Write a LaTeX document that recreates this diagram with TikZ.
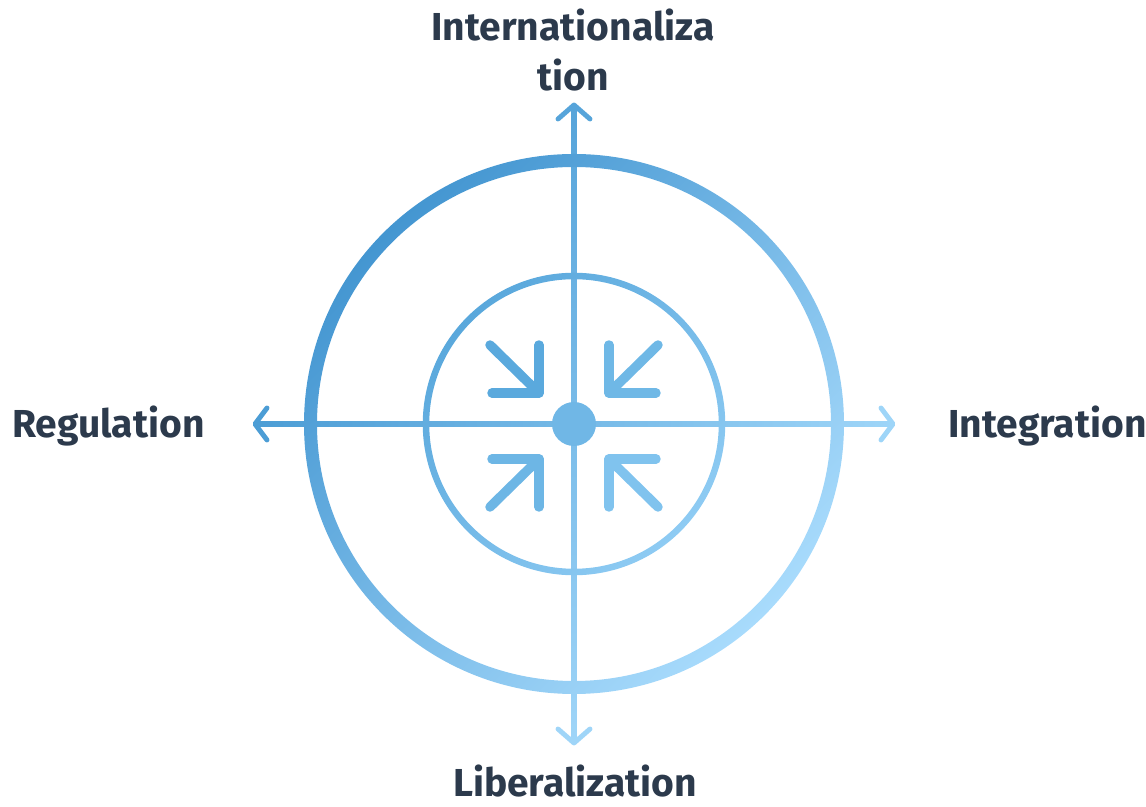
\documentclass[tikz,border=0pt]{standalone}
\usepackage{fontspec}
\setmainfont{Fira Sans}
\usetikzlibrary{positioning}

\definecolor{labeltext}{HTML}{2C3A4C}
\definecolor{ringdark}{HTML}{4496D1}
\definecolor{ringlight}{HTML}{A8DBFC}
\definecolor{innerdark}{HTML}{5AA8DC}
\definecolor{innerlight}{HTML}{8ECBF3}
\definecolor{axwest}{HTML}{4C9DD5}
\definecolor{axeast}{HTML}{9ED5F8}
\definecolor{axnorth}{HTML}{56A4DA}
\definecolor{axsouth}{HTML}{9FD5F8}

\tikzset{
  axislabel/.style={font=\bfseries\fontsize{22.2}{28.4}\selectfont, text=labeltext, align=center, inner sep=0pt},
  chevron/.style={line width=2.8pt, line cap=round, line join=round},
  pointer/.style={line width=5.4pt, line cap=round, line join=round},
}

\begin{document}
\begin{tikzpicture}[x=0.02cm, y=0.02cm]
\useasboundingbox (-574,-383) rectangle (572,424);

% axis ends
\coordinate (hub) at (0,0);
\coordinate (west) at (-319,0);
\coordinate (east) at (319,0);
\coordinate (north) at (0,319);
\coordinate (south) at (0,-319);

% axes
\shade[left color=axwest, right color=axeast] (west) ++(1,-2.5) rectangle ++(636,5);
\shade[top color=axnorth, bottom color=axsouth] (south) ++(-2.5,1) rectangle ++(5,636);
\draw[chevron, axwest] (west) ++(12,16) -- (west) -- ++(12,-16);
\draw[chevron, axeast] (east) ++(-12,16) -- (east) -- ++(-12,-16);
\draw[chevron, axnorth] (north) ++(-16,-14) -- (north) -- ++(16,-14);
\draw[chevron, axsouth] (south) ++(-16,14) -- (south) -- ++(16,14);

% rings
\shade[even odd rule, top color=ringdark, bottom color=ringlight, shading angle=45]
  (hub) circle (270) (hub) circle (257);
\shade[even odd rule, top color=innerdark, bottom color=innerlight, shading angle=45]
  (hub) circle (151.25) (hub) circle (144.75);

% inward pointers
\draw[pointer, color={rgb,255:red,90;green,169;blue,221}] (-35,79) -- (-35,31) -- (-82,31);
\draw[pointer, color={rgb,255:red,90;green,169;blue,221}] (-84,79) -- (-35,31);
\draw[pointer, color={rgb,255:red,111;green,184;blue,230}] (35,79) -- (35,31) -- (82,31);
\draw[pointer, color={rgb,255:red,111;green,184;blue,230}] (84,79) -- (35,31);
\draw[pointer, color={rgb,255:red,109;green,182;blue,229}] (-35,-83) -- (-35,-35) -- (-82,-35);
\draw[pointer, color={rgb,255:red,109;green,182;blue,229}] (-84,-83) -- (-35,-35);
\draw[pointer, color={rgb,255:red,128;green,195;blue,238}] (35,-83) -- (35,-35) -- (82,-35);
\draw[pointer, color={rgb,255:red,128;green,195;blue,238}] (84,-83) -- (35,-35);
\fill[color={rgb,255:red,112;green,183;blue,230}] (hub) circle (22);

% labels
\node[axislabel] (intl) at (-1,374) {Internationaliza\\tion};
\node[axislabel, anchor=base east] (regul) at (-369,-14) {Regulation};
\node[axislabel, anchor=base west] (integ) at (374,-14) {Integration};
\node[axislabel, anchor=base] (liber) at (1,-373) {Liberalization};
\end{tikzpicture}
\end{document}
